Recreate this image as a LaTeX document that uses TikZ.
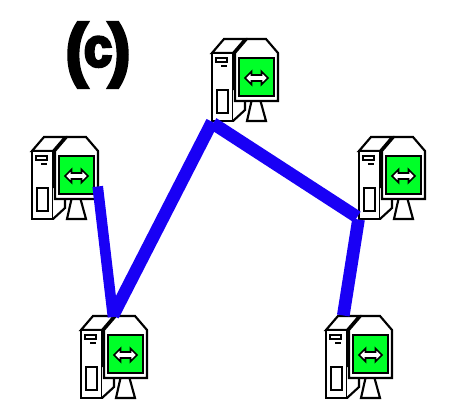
\documentclass[tikz,border=0pt]{standalone}
\usepackage{fontspec}
\newfontfamily\heavyfont[FakeBold=5.5]{Liberation Sans Bold}
\definecolor{scr}{RGB}{0,255,40}
\definecolor{linkblue}{RGB}{25,0,245}
\tikzset{
  edgeline/.style={draw=black,line width=1.6pt,fill=white,line join=miter},
  linkline/.style={draw=linkblue,line width=9.5pt,line cap=butt},
  computer/.pic={
    \draw[edgeline] (0,14) -- (12,0) -- (33,0) -- (21,14) -- cycle;
    \draw[edgeline] (0,14) rectangle (21,82);
    \draw[edgeline] (21,82) -- (33,71) -- (33,50) -- (21,50);
    \draw[edgeline] (4,19) rectangle (15,23);
    \draw[black,line width=1.2pt] (9,27) -- (15,27);
    \draw[edgeline] (5,51) rectangle (16,74);
    \draw[edgeline] (39.5,62) -- (35,82) -- (54,82) -- (48.5,62);
    \draw[edgeline] (23,14) -- (35,0) -- (54,0) -- (66,14) -- (66,62) -- (23,62) -- cycle;
    \draw[black,line width=1.5pt,fill=scr] (27,19) rectangle (62,57);
    \draw[black,line width=1.3pt,fill=white] (33,39) -- (39.5,32.5) -- (39.5,36) -- (49.5,36) -- (49.5,32.5) -- (56,39) -- (49.5,45.5) -- (49.5,42) -- (39.5,42) -- (39.5,45.5) -- cycle;
  }
}
\begin{document}
\begin{tikzpicture}[x=0.75pt,y=-0.75pt]
\useasboundingbox (0,0) rectangle (468,416);
\node[font=\heavyfont\fontsize{52pt}{52pt}\selectfont,inner sep=0pt,xscale=0.92] (label) at (98,55) {(\kern-2.5pt\raisebox{5pt}{\fontsize{41pt}{41pt}\selectfont c}\kern-2.5pt)};
\pic at (212,39) {computer};
\pic at (32,137) {computer};
\pic at (359,137) {computer};
\pic at (81,316) {computer};
\pic at (326,316) {computer};
\coordinate (a1) at (97.7,186.5);
\coordinate (a2) at (113,317);
\coordinate (b1) at (113,315.5);
\coordinate (b2) at (212.2,121.8);
\coordinate (c1) at (213,123.5);
\coordinate (c2) at (357.2,217);
\coordinate (d1) at (358.5,219.5);
\coordinate (d2) at (343.3,315.5);
\draw[linkline,line width=8pt] (a1) -- (a2);
\draw[linkline] (b1) -- (b2);
\draw[linkline] (c1) -- (c2);
\draw[linkline] (d1) -- (d2);
\end{tikzpicture}
\end{document}
